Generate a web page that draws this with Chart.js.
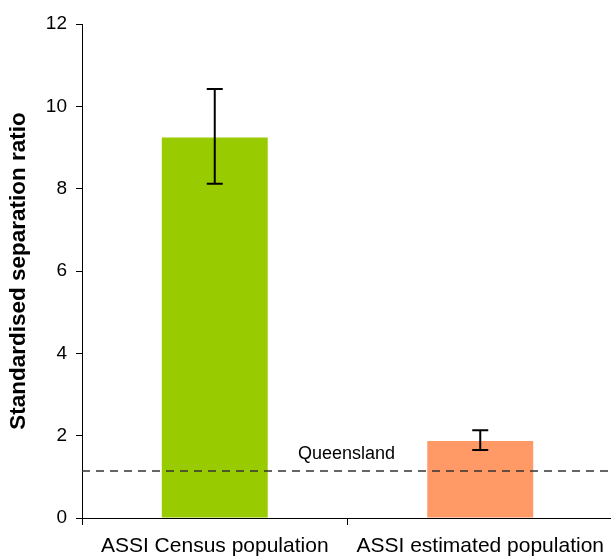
<!DOCTYPE html>
<html>
<head>
<meta charset="utf-8">
<script src="https://cdn.jsdelivr.net/npm/chart.js@4.4.0/dist/chart.umd.min.js"></script>
<style>
  html, body { margin: 0; padding: 0; background: #fff; overflow: hidden; }
  #wrap { width: 611px; height: 558px; overflow: hidden; }
</style>
</head>
<body>
<div id="wrap"><canvas id="c" width="613" height="558"></canvas></div>
<script>
// Standardised separation ratios with 95% confidence limits
const categories = ['ASSI Census population', 'ASSI estimated population'];
const ratios = [9.24, 1.87];
const lowerCI = [8.12, 1.65];
const upperCI = [10.42, 2.13];
const barColors = ['#99CC00', '#FF9966'];
const queenslandRatio = 1.14;
const queenslandLabel = 'Queensland';
const yTicks = [0, 2, 4, 6, 8, 10, 12];

const FONT = 'Liberation Sans, Arial, sans-serif';

// Error bars plus the dashed Queensland reference line
const overlays = {
  id: 'overlays',
  afterDatasetsDraw(chart) {
    const ctx = chart.ctx;
    const xs = chart.scales.x;
    const ys = chart.scales.y;
    const area = chart.chartArea;

    // dashed reference line
    const yq = ys.getPixelForValue(queenslandRatio);
    ctx.save();
    ctx.strokeStyle = '#333333';
    ctx.lineWidth = 1.5;
    ctx.setLineDash([8, 6]);
    ctx.beginPath();
    ctx.moveTo(area.left, yq);
    ctx.lineTo(area.right, yq);
    ctx.stroke();
    ctx.restore();

    // label centred between the two categories
    const xmid = (xs.getPixelForValue(0) + xs.getPixelForValue(1)) / 2;
    ctx.save();
    ctx.fillStyle = '#000';
    ctx.font = '18px ' + FONT;
    ctx.textAlign = 'center';
    ctx.textBaseline = 'alphabetic';
    ctx.fillText(queenslandLabel, xmid - 1, yq - 12);
    ctx.restore();

    // confidence interval whiskers
    ctx.save();
    ctx.strokeStyle = '#000';
    ctx.lineWidth = 2;
    const cap = 8;
    categories.forEach((c, i) => {
      const x = xs.getPixelForValue(i);
      const yl = ys.getPixelForValue(lowerCI[i]);
      const yu = ys.getPixelForValue(upperCI[i]);
      ctx.beginPath();
      ctx.moveTo(x, yu); ctx.lineTo(x, yl);
      ctx.moveTo(x - cap, yu); ctx.lineTo(x + cap, yu);
      ctx.moveTo(x - cap, yl); ctx.lineTo(x + cap, yl);
      ctx.stroke();
    });
    ctx.restore();
  }
};

new Chart(document.getElementById('c'), {
  type: 'bar',
  data: {
    labels: categories,
    datasets: [{
      data: ratios,
      backgroundColor: barColors,
      borderWidth: 0,
      categoryPercentage: 1,
      barPercentage: 0.399
    }]
  },
  options: {
    responsive: false,
    animation: false,
    layout: { padding: { top: 24, right: 0, left: 0, bottom: 0 } },
    plugins: {
      legend: { display: false },
      tooltip: { enabled: false }
    },
    scales: {
      x: {
        offset: true,
        grid: {
          display: true,
          offset: true,
          drawOnChartArea: false,
          drawTicks: true,
          tickLength: 7,
          color: '#000',
          lineWidth: 1
        },
        border: { display: true, color: '#000', width: 1 },
        ticks: {
          color: '#000',
          font: { family: FONT, size: 21 },
          padding: 9,
          maxRotation: 0,
          autoSkip: false
        },
        afterFit(scale) {
          scale.height = 40;
          scale.paddingLeft = 0;
          scale.paddingRight = 0;
        }
      },
      y: {
        min: 0,
        max: 12,
        afterBuildTicks(scale) { scale.ticks = yTicks.map(v => ({ value: v })); },
        grid: {
          drawOnChartArea: false,
          drawTicks: true,
          tickLength: 6,
          color: '#000',
          lineWidth: 1
        },
        border: { display: true, color: '#000', width: 1 },
        ticks: {
          color: '#000',
          font: { family: FONT, size: 19 },
          padding: 9
        },
        title: {
          display: true,
          text: 'Standardised separation ratio',
          color: '#000',
          font: { family: FONT, size: 22.5, weight: 'bold' },
          padding: { top: 5, bottom: 0 }
        },
        afterFit(scale) { scale.width = 82; }
      }
    }
  },
  plugins: [overlays]
});
</script>
</body>
</html>
